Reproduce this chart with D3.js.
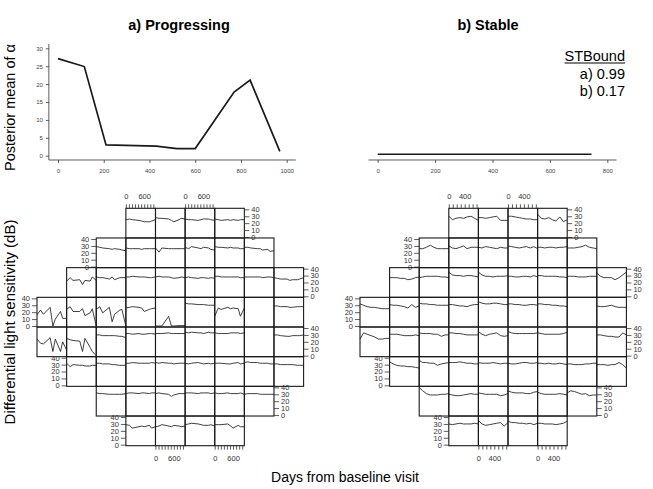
<!DOCTYPE html>
<html>
<head>
<meta charset="utf-8">
<script src="https://cdn.jsdelivr.net/npm/d3@7"></script>
<style>
  body { margin: 0; background: #fff; }
  svg { font-family: "Liberation Sans", Arial, Helvetica, sans-serif; }
</style>
</head>
<body>
<div id="chart"></div>
<script>
const width = 653;
const height = 489;

// visit days (x) for each eye
const progDays = [0, 115, 210, 430, 520, 600, 770, 840, 970];
const stableDays = [0, 90, 180, 280, 370, 460, 560, 650, 745];

// posterior mean of alpha at each visit
const progAlpha = [27.1, 24.9, 3.0, 2.7, 2.0, 2.0, 17.8, 21.1, 1.2];
const stableAlpha = [0.4, 0.4, 0.4, 0.4, 0.4, 0.4, 0.4, 0.4, 0.4];

const stBound = ["a) 0.99", "b) 0.17"];

// 24-2 field layout: first column and number of cells per row (blind spot = null)
const rowStart = [3, 2, 1, 0, 0, 1, 2, 3];
const rowLen = [4, 6, 8, 9, 9, 8, 6, 4];
const dbTicks = [0, 10, 20, 30, 40];

// sensitivity (dB) series per location, row by row
const progField = [
  [[25,26,25,24,23,22,22,23,25], [28,27,27,26,24,22,25,27,26], [26,25,25,24,25,26,26,25,24], [26,25,24,25,24,25,24,25,25]],
  [[29,28,27,26,25,26,25,24,23], [27,26,26,26,25,26,26,26,26], [27,21,27,26,26,26,26,26,26], [28,26,29,27,26,28,27,25,24], [29,28,28,27,28,27,27,26,26], [28,28,27,26,26,24,25,22,23]],
  [[22,27,23,24,17,23,22,28,23], [28,27,27,25,28,24,27,27,27], [28,28,29,28,28,28,27,27,28], [28,29,28,28,27,26,27,28,27], [27,28,27,26,27,27,26,27,26], [29,29,28,28,28,28,28,27,27], [28,28,28,28,28,27,28,28,27], [27,26,25,25,23,24,24,25,27]],
  [[16,23,17,27,0,10,21,11,11], [24,28,21,21,25,15,19,25,0], [24,28,19,27,6,17,23,24,0], [26,27,28,27,26,21,24,25,26], [0,0,0,14,0,0,0.5,0.5,0.5], [33,32,32,31,31,31,30,30,30], [14,26,24,27,25,26,25,14,26], null, [29,29,28,28,27,27,28,28,28]],
  [[24,18,17,26,6,24,6,20,8], [25,23,22,21,6,25,12,6,0], [30,30,29,29,29,29,28,28,26], [32,32,31,32,31,31,32,32,31], [32,32,32,33,32,32,32,32,32], [34,33,34,33,33,32,34,33,33], [33,32,32,32,33,33,33,32,33], null, [30,30,29,28,28,29,29,29,30]],
  [[32,27,30,29,29,28,28,29,29], [32,32,31,31,30,30,29,29,29], [32,32,33,32,32,32,32,33,32], [33,32,33,32,32,31,32,32,32], [32,31,32,33,32,31,32,31,32], [32,32,32,31,31,32,33,31,32], [33,34,33,33,32,32,32,31,31], [31,31,30,30,30,30,29,29,29]],
  [[32,31,31,30,30,30,30,30,31], [31,32,32,31,32,32,31,32,32], [31,32,31,30,27,29,31,31,31], [32,32,32,31,32,32,32,31,32], [32,31,31,32,31,31,31,32,30], [30,31,31,31,30,30,30,30,30]],
  [[29,28,24,26,27,26,28,24,26], [26,27,29,27,26,28,27,26,27], [29,30,31,30,29,28,28,29,27], [29,29,29,30,27,24,28,26,26]]
];

const stableField = [
  [[30,25,27,28,27,29,30,27,24], [28,28,27,28,29,30,24,24,24], [30,30,29,28,27,26,26,25,25], [33,27,26,28,25,23,29,22,25]],
  [[26,26,28,31,28,26,26,26,26], [30,27,26,28,30,26,28,28,28], [28,27,29,28,27,26,28,27,27], [30,29,28,27,28,29,27,29,26], [28,28,27,28,28,27,28,28,29], [27,27,27,28,29,31,28,27,26]],
  [[27,27,27,26,26,24,25,27,28], [27,28,29,29,29,29,28,28,27], [35,31,30,30,29,30,30,29,28], [35,31,29,29,28,29,29,29,30], [29,29,28,28,29,29,28,30,28], [30,30,29,29,29,29,28,28,27], [29,29,29,28,28,28,29,29,29], [34,29,27,27,27,24,27,31,35]],
  [[32,30,28,27,27,26,25,25,25], [31,30,30,29,28,26,31,27,29], [33,32,32,31,31,30,30,30,30], [31,31,30,29,29,28,30,31,31], [35,33,32,32,33,33,32,31,31], [32,32,31,31,30,30,31,31,30], [32,32,31,31,30,30,29,29,28], null, [29,28,28,29,30,28,27,27,27]],
  [[24,33,31,29,27,24,24,25,25], [31,31,31,30,29,29,29,30,29], [33,32,32,32,31,31,28,30,30], [33,33,32,32,31,30,30,30,30], [35,31,29,31,32,33,29,28,29], [35,33,32,32,32,32,32,32,33], [33,32,31,31,31,31,31,32,34], null, [30,30,29,28,28,27,27,33,30]],
  [[34,31,29,28,28,27,27,26,25], [36,33,33,32,32,29,31,32,33], [33,33,33,34,33,32,32,31,31], [33,32,32,32,33,32,31,32,32], [32,31,31,32,33,33,32,32,33], [32,32,31,32,31,31,32,31,30], [31,31,30,30,30,31,31,32,32], [30,30,30,29,30,30,33,30,25]],
  [[40,35,31,29,29,29,30,30,31], [30,29,28,28,29,30,31,30,30], [32,31,30,30,30,30,28,29,31], [35,33,32,32,32,31,31,33,34], [33,31,30,30,30,30,31,30,29], [32,35,34,32,30,31,28,29,29]],
  [[30,29,30,31,30,30,30,31,30], [35,30,28,29,30,31,32,27,32], [34,32,32,31,31,30,31,29,31], [31,31,30,30,30,29,30,31,34]]
];

const svg = d3.select("#chart")
  .append("svg")
  .attr("width", width)
  .attr("height", height);

const ink = "#1a1a1a";

// ---------- top line charts ----------
const yTop = d3.scaleLinear().domain([0, 30]).range([155.7, 48.3]);

function topChart(days, alpha, xScale, xTicks, withYAxis) {
  const g = svg.append("g");
  const pad = (xScale.domain()[1] - xScale.domain()[0]) * 0.04;
  const xLo = xScale(xScale.domain()[0] - pad);
  const xHi = xScale(xScale.domain()[1] + pad);
  const yBottom = yTop(-1.2);

  // L-shaped frame
  g.append("line")
    .attr("x1", xLo).attr("x2", xHi)
    .attr("y1", yBottom).attr("y2", yBottom)
    .attr("stroke", "#333").attr("stroke-width", 0.8);

  const xAxis = g.append("g")
    .attr("transform", `translate(0,${yBottom})`)
    .call(d3.axisBottom(xScale).tickValues(xTicks).tickFormat(d3.format("d"))
      .tickSize(3).tickPadding(5.5).tickSizeOuter(0));
  xAxis.select(".domain").remove();

  if (withYAxis) {
    g.append("line")
      .attr("x1", xLo).attr("x2", xLo)
      .attr("y1", yBottom).attr("y2", yTop(31.2))
      .attr("stroke", "#333").attr("stroke-width", 0.8);
    const yAxis = g.append("g")
      .attr("transform", `translate(${xLo},0)`)
      .call(d3.axisLeft(yTop).tickValues(d3.range(0, 31, 5)).tickSize(3).tickPadding(3).tickSizeOuter(0));
    yAxis.select(".domain").remove();
  }

  g.selectAll(".tick line").attr("stroke", "#333").attr("stroke-width", 0.8);
  g.selectAll(".tick text").attr("fill", "#444").style("font-size", "6px");

  g.append("path")
    .datum(days.map((d, i) => [d, alpha[i]]))
    .attr("fill", "none")
    .attr("stroke", ink)
    .attr("stroke-width", 1.7)
    .attr("d", d3.line().x(d => xScale(d[0])).y(d => yTop(d[1])));
}

const xTopL = d3.scaleLinear().domain([0, 1000]).range([58, 286.7]);
const xTopR = d3.scaleLinear().domain([0, 800]).range([377.7, 607.3]);
topChart(progDays, progAlpha, xTopL, d3.range(0, 1001, 200), true);
topChart(stableDays, stableAlpha, xTopR, d3.range(0, 801, 200), false);

// titles
svg.append("text").attr("x", 179).attr("y", 30).attr("text-anchor", "middle")
  .style("font-size", "14.5px").style("font-weight", "bold").text("a) Progressing");
svg.append("text").attr("x", 488).attr("y", 30).attr("text-anchor", "middle")
  .style("font-size", "14.5px").style("font-weight", "bold").text("b) Stable");

// STBound legend
const legX = 625;
const stTitle = svg.append("text").attr("x", legX).attr("y", 61).attr("text-anchor", "end")
  .style("font-size", "14.5px").text("STBound");
const stW = stTitle.node().getComputedTextLength();
svg.append("line").attr("x1", legX - stW).attr("x2", legX).attr("y1", 63).attr("y2", 63)
  .attr("stroke", "#000").attr("stroke-width", 1);
stBound.forEach((s, i) => {
  svg.append("text").attr("x", legX).attr("y", 78.5 + i * 17).attr("text-anchor", "end")
    .style("font-size", "14.5px").text(s);
});

// axis labels
svg.append("text")
  .attr("transform", "translate(15,107.5) rotate(-90)")
  .attr("text-anchor", "middle")
  .style("font-size", "14.5px")
  .text("Posterior mean of α");

svg.append("text")
  .attr("transform", "translate(15,322) rotate(-90)")
  .attr("text-anchor", "middle")
  .style("font-size", "15px")
  .text("Differential light sensitivity (dB)");

svg.append("text")
  .attr("x", 345).attr("y", 482)
  .attr("text-anchor", "middle")
  .style("font-size", "14px")
  .text("Days from baseline visit");

// ---------- visual field grids ----------
const rowScale = d3.scaleBand().domain(d3.range(8)).range([208.3, 445.7]);

function drawField(x0, x1, days, field, maxDay, dayTicks, dayLabels) {
  const colScale = d3.scaleBand().domain(d3.range(9)).range([x0, x1]);
  const bw = colScale.bandwidth();
  const bh = rowScale.bandwidth();
  const xIn = d3.scaleLinear().domain([0, maxDay]).range([0, bw]);
  const yIn = d3.scaleLinear().domain([-1.5, 41.5]).range([bh, 0]);
  const line = d3.line().x((v, i) => xIn(days[i])).y(v => yIn(v));

  const g = svg.append("g");

  field.forEach((row, r) => {
    row.forEach((series, i) => {
      const col = rowStart[r] + i;
      const cell = g.append("g")
        .attr("transform", `translate(${colScale(col)},${rowScale(r)})`);
      if (series) {
        cell.append("path")
          .datum(series)
          .attr("fill", "none")
          .attr("stroke", "#2a2a2a")
          .attr("stroke-width", 0.9)
          .attr("d", line);
      }
      cell.append("rect")
        .attr("width", bw).attr("height", bh)
        .attr("fill", "none")
        .attr("stroke", ink)
        .attr("stroke-width", 1.1);
    });

    // alternating dB axes: right side on rows 1,3,5,7; left side on 2,4,6,8
    const onRight = r % 2 === 0;
    const ax = onRight
      ? colScale(rowStart[r] + rowLen[r] - 1) + bw
      : colScale(rowStart[r]);
    const axis = (onRight ? d3.axisRight(yIn) : d3.axisLeft(yIn))
      .tickValues(dbTicks).tickSize(5).tickPadding(2).tickSizeOuter(0);
    const ag = g.append("g")
      .attr("transform", `translate(${ax},${rowScale(r)})`)
      .call(axis);
    ag.select(".domain").remove();
  });

  // day axes: top over 1st and 3rd cell of first row, bottom under 2nd and 4th cell of last row
  const fmt = d => (dayLabels.includes(d) ? d : "");
  [0, 2].forEach(i => {
    const ag = g.append("g")
      .attr("transform", `translate(${colScale(rowStart[0] + i)},${rowScale(0)})`)
      .call(d3.axisTop(xIn).tickValues(dayTicks).tickFormat(fmt).tickSize(4).tickPadding(5.5).tickSizeOuter(0));
    ag.select(".domain").remove();
  });
  [1, 3].forEach(i => {
    const ag = g.append("g")
      .attr("transform", `translate(${colScale(rowStart[7] + i)},${rowScale(7) + bh})`)
      .call(d3.axisBottom(xIn).tickValues(dayTicks).tickFormat(fmt).tickSize(4).tickPadding(5.5).tickSizeOuter(0));
    ag.select(".domain").remove();
  });

  g.selectAll(".tick line").attr("stroke", "#333").attr("stroke-width", 0.8);
  g.selectAll(".tick text").attr("fill", "#333").style("font-size", "7.5px");
}

drawField(37, 303.6, progDays, progField, 970, d3.range(0, 901, 100), [0, 600]);
drawField(360, 626.4, stableDays, stableField, 745, d3.range(0, 701, 100), [0, 400]);
</script>
</body>
</html>
